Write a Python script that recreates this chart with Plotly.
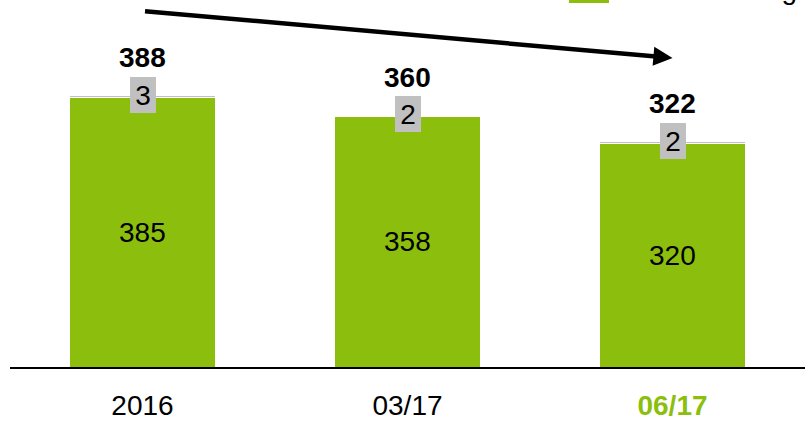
import plotly.graph_objects as go

categories = ["2016", "03/17", "06/17"]
main_values = [385, 358, 320]
small_values = [3, 2, 2]
totals = [388, 360, 322]
tick_labels = ["2016", "03/17", "<b><span style='color:#8CBE0E'>06/17</span></b>"]

GREEN = "#8CBE0E"
GREY = "#C0C0C0"
FONT = "Liberation Sans, Arial, sans-serif"

idx = list(range(len(categories)))

fig = go.Figure()
fig.add_trace(go.Bar(x=idx, y=main_values, marker=dict(color=GREEN, line=dict(width=0)),
                     width=0.55, showlegend=False, hoverinfo="skip"))
fig.add_trace(go.Bar(x=idx, y=small_values, marker=dict(color=GREY, line=dict(width=1, color="white")),
                     width=0.55, showlegend=False, hoverinfo="skip"))

annotations = []
for i, m, s, t in zip(idx, main_values, small_values, totals):
    annotations.append(dict(x=i, y=m / 2, text=str(m), showarrow=False,
                            font=dict(size=28, color="#000", family=FONT), yanchor="middle"))
    annotations.append(dict(x=i, y=t, text=str(s), showarrow=False, bgcolor=GREY,
                            font=dict(size=28, color="#000", family=FONT), yanchor="middle",
                            borderpad=1, borderwidth=0, width=24, height=34, yshift=1))
    annotations.append(dict(x=i, y=t, text="<b>" + str(t) + "</b>", showarrow=False,
                            font=dict(size=28, color="#000", family=FONT), yanchor="middle",
                            yshift=38))

# trend arrow
annotations.append(dict(x=idx[2], y=totals[0] + 54, ax=-529, ay=-47,
                        axref="pixel", ayref="pixel", showarrow=True, arrowhead=2,
                        arrowsize=0.85, arrowwidth=4.5, arrowcolor="#000", text=""))
# legend (cut off at top)
annotations.append(dict(xref="paper", yref="paper", x=1.0, y=1.0, xshift=-6, yshift=-7,
                        xanchor="right", yanchor="bottom", text="Outstanding",
                        showarrow=False, font=dict(size=28, color="#000", family=FONT)))

fig.add_shape(type="rect", xref="paper", yref="paper", x0=(569 - 10) / 795, x1=(609 - 10) / 795,
              y0=1 - 3 / 367, y1=1.1, fillcolor=GREEN, line=dict(width=0))

fig.update_layout(
    barmode="stack",
    width=809, height=421,
    margin=dict(l=10, r=4, t=0, b=54),
    plot_bgcolor="white", paper_bgcolor="white",
    annotations=annotations,
    xaxis=dict(tickvals=idx, ticktext=tick_labels, showline=True, linecolor="#000",
               linewidth=2, showgrid=False, ticks="", ticklabelstandoff=12, automargin=False,
               tickfont=dict(size=28, color="#000", family=FONT), range=[-0.5, 2.5],
               fixedrange=True),
    yaxis=dict(visible=False, range=[0, 525], fixedrange=True, automargin=False),
)

fig.write_html("out.html")
